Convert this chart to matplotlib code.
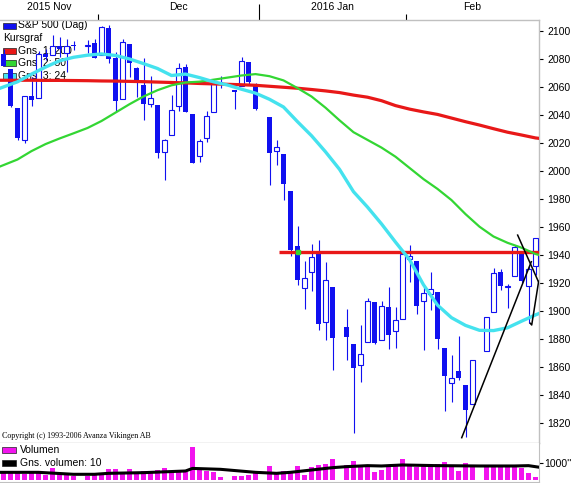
"""S&P 500 daily candlestick chart with moving averages and a volume panel."""
import numpy as np
import pandas as pd
import matplotlib
matplotlib.use("Agg")
import matplotlib.pyplot as plt  # noqa: E402
from matplotlib import transforms  # noqa: E402
from matplotlib.patches import Rectangle  # noqa: E402

plt.rcParams["font.family"] = ["Liberation Sans", "DejaVu Sans"]

# one slot per weekday, holidays are empty slots (None)
days = pd.bdate_range("2015-11-11", "2016-02-25")

opens = [
    2083.41, 2072.29, 2044.64,
    2022.08, 2053.67, 2051.99, 2083.70, 2082.82,
    2089.41, 2084.42, 2089.30, None, 2088.82,
    2090.95,
    2082.93, 2101.71, 2080.71, 2051.24,
    2090.42, 2073.39, 2061.17, 2047.93, 2047.27,
    2013.37, 2025.55, 2046.50, 2073.76, 2040.81,
    2010.27, 2023.15, 2042.20, 2063.52, None,
    2057.77, 2060.54, 2077.34, 2060.59,
    None, 2038.20, 2013.78, 2011.71, 1985.32, 1945.97,
    1916.00, 1927.83, 1940.34, 1891.68, 1916.68,
    None, 1888.66, 1876.18, 1861.46, 1877.40,
    1906.28, 1878.79, 1902.52, 1885.22, 1894.00,
    1936.94, 1935.26, 1907.07, 1911.67, 1913.07,
    1873.25, 1848.46, 1857.10, 1847.00, 1833.40,
    None, 1871.44, 1898.80, 1927.57, 1916.74,
    1924.44, 1942.38, 1917.56, 1931.87,
]
highs = [
    2086.94, 2072.29, 2044.64,
    2053.22, 2066.69, 2085.31, 2086.74, 2097.06,
    2095.61, 2094.12, 2093.00, None, 2093.29,
    2093.81,
    2103.37, 2104.27, 2085.00, 2093.84,
    2090.42, 2073.85, 2080.33, 2067.65, 2047.27,
    2022.92, 2053.87, 2076.72, 2076.37, 2040.81,
    2022.90, 2042.74, 2064.73, 2067.36, None,
    2057.77, 2081.56, 2077.34, 2062.54,
    None, 2038.20, 2021.94, 2011.71, 1985.32, 1960.40,
    1935.65, 1947.38, 1950.33, 1934.47, 1916.68,
    None, 1901.44, 1876.18, 1889.85, 1908.85,
    1906.28, 1906.73, 1916.99, 1902.96, 1940.24,
    1947.20, 1935.26, 1918.01, 1927.35, 1913.07,
    1873.25, 1868.25, 1881.60, 1847.00, 1864.78,
    None, 1895.77, 1930.68, 1930.00, 1918.78,
    1946.70, 1942.38, 1932.08, 1951.83,
]
lows = [
    2074.85, 2045.66, 2022.02,
    2019.94, 2045.90, 2051.99, 2078.76, 2082.82,
    2081.39, 2070.29, 2086.30, None, 2084.13,
    2080.41,
    2082.93, 2077.11, 2042.35, 2051.24,
    2066.78, 2052.32, 2036.53, 2045.67, 2008.80,
    1993.26, 2025.55, 2042.43, 2041.66, 2005.33,
    2005.93, 2020.49, 2042.20, 2058.73, None,
    2044.20, 2060.54, 2061.97, 2043.62,
    None, 1989.68, 2004.17, 1979.05, 1938.83, 1918.46,
    1901.10, 1914.35, 1886.41, 1878.93, 1857.83,
    None, 1864.60, 1812.29, 1848.98, 1877.40,
    1875.97, 1878.79, 1872.70, 1873.65, 1894.00,
    1920.30, 1897.29, 1872.23, 1900.52, 1872.65,
    1828.46, 1834.94, 1850.32, 1810.10, 1833.40,
    None, 1871.44, 1898.80, 1915.09, 1902.17,
    1924.44, 1919.44, 1891.00, 1925.41,
]
closes = [
    2075.00, 2045.97, 2023.04,
    2053.19, 2050.44, 2083.58, 2081.24, 2089.17,
    2086.59, 2089.14, 2088.87, None, 2090.11,
    2080.41,
    2102.63, 2079.51, 2049.62, 2091.69,
    2077.07, 2063.59, 2047.62, 2052.23, 2012.37,
    2021.94, 2043.41, 2073.07, 2041.89, 2005.55,
    2021.15, 2038.97, 2064.29, 2060.99, None,
    2056.50, 2078.36, 2063.36, 2043.94,
    None, 2012.66, 2016.71, 1990.26, 1943.09, 1922.03,
    1923.67, 1938.68, 1890.28, 1921.84, 1880.33,
    None, 1881.33, 1859.33, 1868.99, 1906.90,
    1877.08, 1903.63, 1882.95, 1893.36, 1940.24,
    1939.38, 1903.03, 1912.53, 1915.45, 1880.05,
    1853.44, 1852.21, 1851.86, 1829.08, 1864.78,
    None, 1895.58, 1926.82, 1917.83, 1917.78,
    1945.50, 1921.27, 1929.80, 1951.70,
]
volume = [
    444, 540, 386, 328, 444, 386, 290, 676, 386, 328, 251, None, 232, 328,
    386, 618, 637, 483, 637, 483, 521, 483, 579, 676, 521, 579, 483, 1891,
    579, 521, 444, 193, None, 232, 232, 290, 444,
    None, 811, 444, 521, 521, 811, 300, 733, 869, 926, 1216,
    None, 869, 1100, 869, 811, 444, 579, 811, 869, 1216,
    926, 772, 926, 869, 926, 1062, 869, 540, 1004, 869,
    None, 869, 830, 811, 772, 811, 676, 386, 193,
]

# moving averages (slot positions)
ma_x = [-0.5] + list(range(2, 77, 2)) + [76.5]
ma200 = [2064.6, 2064.6, 2064.6, 2064.5, 2064.5, 2064.4, 2064.3, 2064.1, 2064.0,
         2063.8, 2063.6, 2063.3, 2063.0, 2062.7, 2062.3, 2062.0, 2061.7, 2061.4,
         2061.0, 2060.3, 2059.6, 2058.9, 2058.0, 2057.0, 2055.8, 2054.0, 2052.5,
         2050.0, 2046.5, 2044.0, 2042.0, 2040.2, 2037.6, 2035.0, 2032.6, 2030.0,
         2027.5, 2025.5, 2023.4, 2023.1]
ma50 = [2003.0, 2008.0, 2014.0, 2019.0, 2023.0, 2026.7, 2030.5, 2035.5, 2041.5,
        2047.5, 2053.0, 2057.5, 2061.0, 2063.0, 2063.6, 2065.0, 2066.5, 2068.0,
        2069.0, 2067.5, 2064.5, 2059.0, 2053.0, 2045.0, 2036.0, 2027.5, 2022.0,
        2016.5, 2010.0, 2002.0, 1994.0, 1987.0, 1979.0, 1969.0, 1960.0, 1953.0,
        1948.5, 1945.0, 1940.5, 1939.8]
ma24 = [2058.9, 2063.5, 2069.0, 2074.0, 2078.5, 2081.0, 2082.5, 2083.4, 2082.3,
        2079.8, 2076.5, 2073.0, 2068.0, 2069.0, 2066.5, 2063.5, 2061.2, 2058.2,
        2055.4, 2051.0, 2045.5, 2035.0, 2025.0, 2013.5, 2001.0, 1985.0, 1974.0,
        1962.0, 1949.0, 1936.5, 1918.5, 1904.0, 1895.0, 1889.5, 1886.0, 1885.8,
        1887.8, 1892.5, 1897.0, 1898.0]

vol_ma_x = [-0.5, 5, 10, 13, 15, 20, 26, 27, 31, 36, 39, 41, 44, 47, 49, 52,
            54, 57, 62, 68, 73, 75, 76.5]
vol_ma10 = [444, 444, 330, 330, 386, 425, 521, 670, 618, 444, 386, 444, 579,
            714, 772, 830, 811, 869, 830, 811, 811, 830, 740]

level_price = 1942.0
level_from = 39.4
trend_lines = [
    ([65.46, 75.4], [1809.3, 1935.0]),
    ([73.45, 76.4], [1954.0, 1920.9]),
    ([75.25, 75.46, 76.45], [1891.0, 1889.8, 1921.0]),
]

BLUE = "#1010f0"
RED = "#e81818"
GREEN = "#33d633"
CYAN = "#44e2ee"
MAGENTA = "#f214ee"
GRAY = "#c0c0c0"

W, H = 575, 483
fig = plt.figure(figsize=(W / 100, H / 100), dpi=100)
ax = fig.add_axes([0, 40 / H, 539 / W, 423.5 / H])
axv = fig.add_axes([0, 1 / H, 539 / W, 39 / H])

x = np.arange(len(days))
o = np.array(opens, dtype=float)
hi = np.array(highs, dtype=float)
lo = np.array(lows, dtype=float)
c = np.array(closes, dtype=float)
ok = ~np.isnan(o)
up = ok & (c >= o)
dn = ok & (c < o)

# candles
ax.vlines(x[ok], lo[ok], hi[ok], color=BLUE, lw=0.8, zorder=2)
ax.bar(x[up], np.maximum(c[up] - o[up], 0.7), bottom=o[up], width=0.72,
       facecolor="white", edgecolor=BLUE, lw=0.8, zorder=3)
ax.bar(x[dn], np.maximum(o[dn] - c[dn], 0.7), bottom=c[dn], width=0.72,
       color=BLUE, lw=0, zorder=3)

# averages and drawn lines
ax.plot(ma_x, ma200, color=RED, lw=2.3, zorder=4)
ax.hlines(level_price, level_from, 76.5, color=RED, lw=2.4, zorder=4)
ax.plot([42], [level_price], "s", color=GREEN, ms=2.5, zorder=4)
ax.plot(ma_x, ma50, color=GREEN, lw=1.6, zorder=5)
ax.plot(ma_x, ma24, color=CYAN, lw=2.4, zorder=6)
for tx, ty in trend_lines:
    ax.plot(tx, ty, color="black", lw=1.1, zorder=7)

ax.set_xlim(-0.5, 76.5)
ax.set_ylim(1805.5, 2108)
ax.set_xticks([])
ax.yaxis.tick_right()
ax.set_yticks(range(1820, 2101, 20))
ax.tick_params(axis="y", length=3, width=0.8, pad=3, labelsize=7.5)
ax.spines["left"].set_visible(False)
for side in ("top", "right", "bottom"):
    ax.spines[side].set_color(GRAY)
    ax.spines[side].set_linewidth(1)

# month labels along the top
tr = transforms.blended_transform_factory(ax.transData, ax.transAxes)
months = days.to_period("M")
starts = [0] + [i for i in range(1, len(days)) if months[i] != months[i - 1]]
edges = [-0.5] + [i - 0.5 for i in starts[1:]] + [76.5]
for k, i in enumerate(starts):
    d = days[i]
    label = d.strftime("%b")
    if k == 0 or d.month == 1:
        label = f"{d.year} {label}"
    ax.text((edges[k] + edges[k + 1]) / 2, 1 + 12.5 / 423.5, label, transform=tr,
            ha="center", va="center", fontsize=7.5, clip_on=False)
for i in starts[1:]:
    tick = 16.0 if days[i].month == 1 else 5.5
    ax.vlines(i - 0.5, 1, 1 + tick / 423.5, transform=tr, color="black",
              lw=0.8, clip_on=False)

# legend in the price panel
legend_rows = [("S&P 500 (Dag)", BLUE), ("Kursgraf", None), ("Gns. 1: 200", RED),
               ("Gns. 2: 50", GREEN), ("Gns. 3: 24", CYAN)]
for k, (name, col) in enumerate(legend_rows):
    yc = 25.5 + 12.6 * k
    yf = (443 - yc) / 423.5
    if col:
        ax.add_patch(Rectangle((3 / 539, yf - 3 / 423.5), 13 / 539, 6 / 423.5,
                               transform=ax.transAxes, facecolor=col,
                               edgecolor="#202020", lw=0.5, zorder=1, clip_on=False))
        tx = 18 / 539
    else:
        tx = 3 / 539
    ax.text(tx, yf, name, transform=ax.transAxes, va="center", fontsize=7.5, zorder=1)

ax.text(2 / 539, (443 - 436) / 423.5, "Copyright (c) 1993-2006 Avanza Vikingen AB",
        transform=ax.transAxes, va="center", fontsize=5.8, family="Liberation Serif")

# volume panel
v = np.array(volume, dtype=float)
vok = ~np.isnan(v)
axv.bar(x[vok], v[vok], width=0.62, color=MAGENTA, lw=0, zorder=2)
axv.plot(vol_ma_x, vol_ma10, color="black", lw=2.2, zorder=3)
axv.set_xlim(-0.5, 76.5)
axv.set_ylim(-115, 2139)
axv.set_xticks([])
axv.yaxis.tick_right()
axv.set_yticks([1000])
axv.set_yticklabels(["1000''"])
axv.tick_params(axis="y", length=3, width=0.8, pad=0.5, labelsize=7.5)
axv.spines["left"].set_visible(False)
axv.spines["top"].set_visible(False)
for side in ("right", "bottom"):
    axv.spines[side].set_color(GRAY)

for k, (name, col) in enumerate([("Volumen", MAGENTA), ("Gns. volumen: 10", "black")]):
    yc = 450 + 12.7 * k
    yf = (482 - yc) / 39
    axv.add_patch(Rectangle((2 / 539, yf - 2.8 / 39), 14 / 539, 5.6 / 39,
                            transform=axv.transAxes, facecolor=col,
                            edgecolor="#202020", lw=0.5, zorder=1, clip_on=False))
    axv.text(20 / 539, yf, name, transform=axv.transAxes, va="center",
             fontsize=7.5, zorder=1)

fig.savefig("out.png", dpi=100)
plt.close(fig)
